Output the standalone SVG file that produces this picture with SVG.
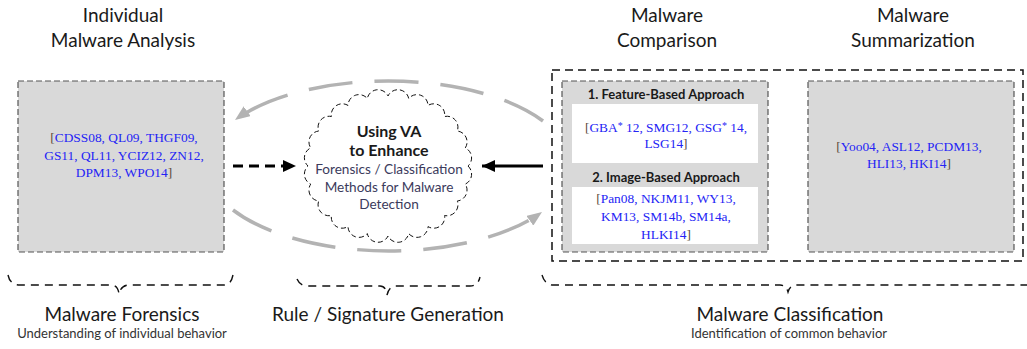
<svg xmlns="http://www.w3.org/2000/svg" width="1027" height="349" viewBox="0 0 1027 349">
<style>
.sans{font-family:Lato,"Open Sans","DejaVu Sans",sans-serif;fill:#1a1a1a}
.head{font-size:19px;text-anchor:middle}
.sub{font-size:13px;text-anchor:middle;fill:#333}
.cite{font-family:"Liberation Serif","Times New Roman",serif;font-size:13.4px;fill:#2424f5;text-anchor:middle}
.br{fill:#5a4a3a}
.gbox{fill:#d9d9d9;stroke:#555;stroke-width:1.2;stroke-dasharray:6 3}
.wbox{fill:#ffffff;stroke:none}
.brace{fill:none;stroke:#111;stroke-width:1.4;stroke-dasharray:8 6}
.garc{fill:none;stroke:#b3b3b3;stroke-width:3.5;stroke-dasharray:44 22}
.bold{font-weight:bold;text-anchor:middle}
.ctx{font-size:13.6px;text-anchor:middle;fill:#3b3b5c}
</style>
<defs>
<marker id="ah" markerUnits="userSpaceOnUse" markerWidth="14" markerHeight="12" refX="13" refY="6" orient="auto"><path d="M0,0 L13,6 L0,12 Z" fill="#000"/></marker>
<marker id="gh" markerUnits="userSpaceOnUse" markerWidth="16" markerHeight="12" refX="15" refY="6" orient="auto"><path d="M0,0 L15,6 L0,12 Z" fill="#b3b3b3"/></marker>
</defs>

<g id="titles">
<text class="head sans" x="123" y="22">Individual</text>
<text class="head sans" x="123" y="47">Malware Analysis</text>
<text class="head sans" x="667" y="22">Malware</text>
<text class="head sans" x="667" y="47">Comparison</text>
<text class="head sans" x="913" y="22">Malware</text>
<text class="head sans" x="913" y="47">Summarization</text>
</g>

<g id="connectors">
<path class="garc" d="M543,121 A183,86 0 0 0 235,120" marker-end="url(#gh)"/>
<path class="garc" d="M233,210 A183,86 0 0 0 542,212" marker-end="url(#gh)"/>
<line x1="233" y1="166" x2="296" y2="166" stroke="#000" stroke-width="3" stroke-dasharray="10 6" marker-end="url(#ah)"/>
<line x1="543" y1="166" x2="482" y2="166" stroke="#000" stroke-width="3" marker-end="url(#ah)"/>
</g>

<g id="individual">
<rect class="gbox" x="18" y="81" width="206" height="171"/>
<text class="cite" x="124" y="142"><tspan class="br">[</tspan>CDSS08, QL09, THGF09,</text>
<text class="cite" x="124" y="159.5">GS11, QL11, YCIZ12, ZN12,</text>
<text class="cite" x="124" y="177">DPM13, WPO14<tspan class="br">]</tspan></text>
</g>

<g id="center">
<path d="M468,166 A11,11 0 0 1 465.3,184.1 A11,11 0 0 1 457.3,201 A11,11 0 0 1 444.6,215.5 A11,11 0 0 1 428,226.6 A11,11 0 0 1 408.7,233.6 A11,11 0 0 1 388,236 A11,11 0 0 1 367.3,233.6 A11,11 0 0 1 348,226.6 A11,11 0 0 1 331.4,215.5 A11,11 0 0 1 318.7,201 A11,11 0 0 1 310.7,184.1 A11,11 0 0 1 308,166 A11,11 0 0 1 310.7,147.9 A11,11 0 0 1 318.7,131 A11,11 0 0 1 331.4,116.5 A11,11 0 0 1 348,105.4 A11,11 0 0 1 367.3,98.4 A11,11 0 0 1 388,96 A11,11 0 0 1 408.7,98.4 A11,11 0 0 1 428,105.4 A11,11 0 0 1 444.6,116.5 A11,11 0 0 1 457.3,131 A11,11 0 0 1 465.3,147.9 A11,11 0 0 1 468,166 Z" fill="#fff" stroke="#111" stroke-width="1" stroke-dasharray="5 3"/>
<text class="sans bold" x="389" y="137" font-size="16">Using VA</text>
<text class="sans bold" x="389" y="156" font-size="16">to Enhance</text>
<text class="sans ctx" x="389" y="174">Forensics / Classification</text>
<text class="sans ctx" x="389" y="192">Methods for Malware</text>
<text class="sans ctx" x="389" y="209">Detection</text>
</g>

<g id="classification">
<rect x="552" y="70" width="471" height="191" fill="none" stroke="#111" stroke-width="1.5" stroke-dasharray="8 5"/>
</g>

<g id="comparison">
<rect class="gbox" x="562" y="81" width="206" height="171"/>
<text class="sans bold" x="666" y="99" font-size="13">1. Feature-Based Approach</text>
<rect class="wbox" x="572" y="104" width="186" height="59"/>
<text class="cite" x="666" y="132"><tspan class="br">[</tspan>GBA<tspan font-size="10" dy="-3">*</tspan><tspan dy="3"> 12, SMG12, GSG</tspan><tspan font-size="10" dy="-3">*</tspan><tspan dy="3"> 14,</tspan></text>
<text class="cite" x="666" y="148">LSG14<tspan class="br">]</tspan></text>
<text class="sans bold" x="666" y="182" font-size="13">2. Image-Based Approach</text>
<rect class="wbox" x="572" y="187" width="186" height="57"/>
<text class="cite" x="666" y="203"><tspan class="br">[</tspan>Pan08, NKJM11, WY13,</text>
<text class="cite" x="666" y="221">KM13, SM14b, SM14a,</text>
<text class="cite" x="666" y="239">HLKI14<tspan class="br">]</tspan></text>
</g>

<g id="summarization">
<rect class="gbox" x="808" y="81" width="206" height="171"/>
<text class="cite" x="909" y="151"><tspan class="br">[</tspan>Yoo04, ASL12, PCDM13,</text>
<text class="cite" x="909" y="168">HLI13, HKI14<tspan class="br">]</tspan></text>
</g>

<g id="braces">
<path class="brace" d="M8,275 Q10,285 20,285 L111,285 Q118,285 119,294 Q121,285 129,285 L224,285 Q231,285 233,275"/>
<path class="brace" d="M297,279 Q300,286 308,286 L380,286 Q386,286 387,295 Q389,286 396,286 L470,286 Q478,286 480,277"/>
<path class="brace" d="M542,275 Q545,285 553,285 L780,285 Q786,285 788,292 Q790,285 797,285 L1027,285"/>
</g>

<g id="bottom-labels">
<text class="head sans" x="122" y="321">Malware Forensics</text>
<text class="sub sans" x="122" y="338">Understanding of individual behavior</text>
<text class="head sans" x="388" y="321">Rule / Signature Generation</text>
<text class="head sans" x="790" y="321">Malware Classification</text>
<text class="sub sans" x="789" y="338">Identification of common behavior</text>
</g>
</svg>
